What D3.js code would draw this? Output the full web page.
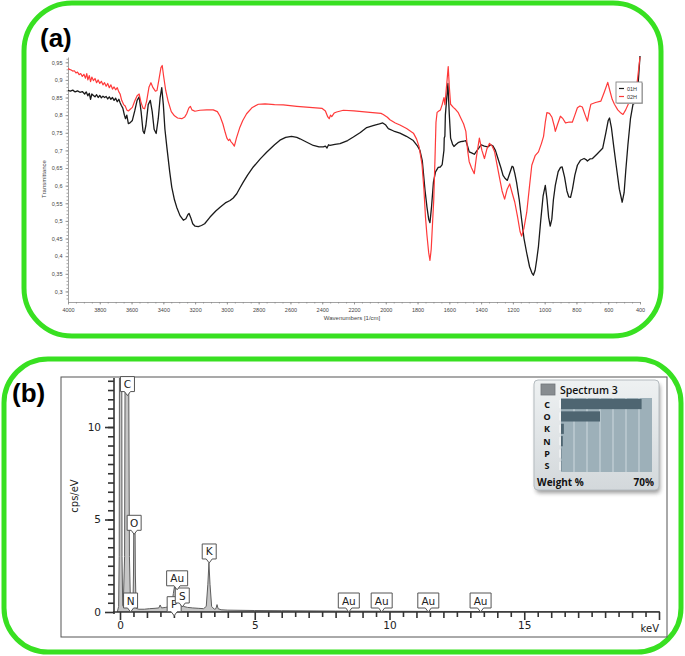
<!DOCTYPE html>
<meta charset="utf-8">
<style>
  body { margin: 0; background: #fff; }
  svg { display: block; }
</style>
<body>
<svg width="685" height="656"></svg>
<script src="https://cdn.jsdelivr.net/npm/d3@7"></script>
<script>

// ---------- panel (a) : FTIR spectra ----------
// wavenumbers (1/cm) and transmittance for sample 01H (black)
var wn01 = [4000,3985,3970,3955,3940,3925,3910,3895,3885,3875,3866,3858,3850,3840,3830,3820,3810,3800,3790,3780,3770,3760,3750,3740,3730,3720,3710,3700,3690,3680,3672,3665,3655,3645,3638,3630,3620,3610,3595,3580,3565,3552,3540,3528,3520,3510,3495,3482,3470,3458,3445,3432,3420,3410,3400,3390,3378,3360,3347,3330,3316,3295,3274,3258,3245,3238,3228,3215,3200,3180,3160,3140,3106,3070,3043,3010,2980,2960,2938,2920,2897,2870,2834,2790,2750,2700,2666,2630,2593,2560,2540,2500,2456,2420,2393,2380,2370,2360,2351,2320,2288,2240,2204,2160,2120,2080,2040,2019,2000,1984,1950,1911,1870,1827,1800,1785,1770,1753,1741,1730,1722,1712,1700,1687,1670,1656,1645,1634,1632,1628,1625,1616,1609,1600,1592,1580,1571,1560,1545,1528,1510,1496,1485,1475,1460,1443,1425,1400,1380,1358,1340,1326,1310,1294,1275,1262,1248,1235,1220,1205,1198,1188,1177,1160,1145,1130,1113,1095,1080,1071,1060,1050,1039,1025,1010,996,985,975,965,955,945,933,915,900,890,875,860,848,837,825,810,794,775,752,740,731,715,699,670,635,615,600,592,580,565,550,530,512,500,490,476,460,444,430,420,410,400];
var tr01 = [0.870,0.868,0.871,0.866,0.869,0.865,0.867,0.860,0.866,0.855,0.862,0.845,0.860,0.856,0.852,0.858,0.850,0.856,0.849,0.854,0.850,0.853,0.846,0.852,0.845,0.850,0.842,0.848,0.838,0.845,0.835,0.828,0.820,0.800,0.790,0.800,0.776,0.778,0.785,0.812,0.842,0.852,0.810,0.755,0.748,0.770,0.830,0.842,0.810,0.760,0.748,0.790,0.850,0.878,0.830,0.760,0.710,0.640,0.596,0.560,0.539,0.515,0.502,0.506,0.518,0.521,0.510,0.492,0.485,0.484,0.487,0.492,0.511,0.528,0.539,0.551,0.558,0.565,0.577,0.592,0.610,0.630,0.653,0.676,0.695,0.716,0.729,0.737,0.740,0.737,0.733,0.724,0.714,0.710,0.710,0.712,0.707,0.716,0.714,0.717,0.719,0.728,0.738,0.751,0.765,0.770,0.775,0.778,0.772,0.762,0.755,0.749,0.740,0.728,0.712,0.700,0.670,0.587,0.540,0.505,0.495,0.540,0.610,0.639,0.652,0.653,0.660,0.700,0.735,0.740,0.800,0.850,0.890,0.800,0.735,0.718,0.711,0.716,0.722,0.725,0.726,0.728,0.712,0.696,0.693,0.689,0.700,0.716,0.712,0.710,0.716,0.713,0.700,0.677,0.650,0.629,0.620,0.615,0.635,0.655,0.653,0.635,0.610,0.560,0.504,0.450,0.409,0.370,0.352,0.346,0.360,0.390,0.428,0.500,0.570,0.601,0.560,0.510,0.485,0.505,0.560,0.601,0.640,0.652,0.653,0.625,0.585,0.568,0.567,0.590,0.630,0.658,0.672,0.677,0.674,0.670,0.676,0.677,0.690,0.706,0.750,0.785,0.792,0.765,0.710,0.658,0.590,0.553,0.580,0.640,0.716,0.790,0.831,0.835,0.850,0.900,0.968];

// sample 02H (red)
var wn02 = [4000,3990,3980,3970,3960,3950,3940,3930,3920,3910,3900,3890,3882,3875,3866,3858,3850,3840,3830,3820,3810,3800,3790,3780,3770,3760,3750,3740,3730,3720,3710,3700,3690,3680,3672,3662,3650,3640,3630,3620,3610,3595,3580,3565,3552,3540,3528,3518,3505,3490,3478,3465,3450,3440,3428,3415,3407,3398,3385,3370,3350,3330,3310,3284,3265,3253,3240,3230,3220,3201,3170,3127,3086,3060,3043,3025,3010,3000,2990,2982,2975,2965,2953,2940,2918,2900,2876,2840,2802,2760,2700,2645,2560,2480,2400,2380,2365,2356,2348,2340,2325,2309,2267,2200,2100,2030,2016,1990,1974,1940,1911,1869,1826,1806,1790,1772,1760,1750,1741,1730,1722,1714,1705,1698,1690,1684,1677,1666,1656,1645,1634,1628,1622,1614,1607,1600,1592,1575,1560,1545,1528,1510,1496,1485,1475,1460,1443,1430,1411,1395,1379,1363,1347,1330,1315,1300,1283,1268,1252,1236,1220,1205,1188,1170,1155,1145,1130,1113,1095,1081,1060,1039,1020,1007,996,986,970,954,940,933,918,901,885,869,850,826,810,794,778,763,745,731,720,709,680,646,625,603,590,575,561,540,520,507,490,470,444,420,400];
var tr02 = [0.932,0.930,0.928,0.925,0.926,0.920,0.922,0.915,0.918,0.910,0.916,0.905,0.918,0.900,0.912,0.895,0.908,0.898,0.904,0.892,0.900,0.890,0.896,0.886,0.892,0.882,0.890,0.878,0.886,0.874,0.880,0.872,0.878,0.866,0.860,0.842,0.830,0.826,0.815,0.812,0.816,0.822,0.840,0.855,0.860,0.835,0.820,0.818,0.840,0.880,0.892,0.878,0.868,0.870,0.900,0.935,0.941,0.910,0.870,0.840,0.810,0.798,0.792,0.790,0.795,0.804,0.820,0.825,0.815,0.811,0.814,0.815,0.815,0.810,0.797,0.775,0.750,0.735,0.728,0.732,0.725,0.720,0.712,0.735,0.766,0.785,0.804,0.822,0.831,0.832,0.830,0.829,0.825,0.822,0.819,0.812,0.795,0.790,0.800,0.796,0.806,0.809,0.814,0.812,0.808,0.805,0.802,0.794,0.787,0.778,0.772,0.762,0.749,0.732,0.710,0.660,0.590,0.510,0.460,0.410,0.388,0.420,0.500,0.560,0.680,0.780,0.808,0.812,0.815,0.830,0.850,0.830,0.860,0.900,0.938,0.880,0.831,0.822,0.816,0.808,0.792,0.775,0.754,0.700,0.668,0.650,0.634,0.680,0.735,0.700,0.677,0.705,0.720,0.712,0.696,0.660,0.620,0.585,0.562,0.590,0.605,0.580,0.553,0.510,0.470,0.457,0.480,0.524,0.600,0.658,0.685,0.696,0.720,0.740,0.780,0.807,0.805,0.794,0.770,0.754,0.775,0.797,0.790,0.778,0.780,0.780,0.800,0.821,0.826,0.823,0.800,0.783,0.810,0.831,0.836,0.840,0.865,0.893,0.870,0.845,0.831,0.815,0.806,0.802,0.815,0.835,0.855,0.885,0.965];

var xTicksA = [4000,3800,3600,3400,3200,3000,2800,2600,2400,2200,2000,1800,1600,1400,1200,1000,800,600,400];
var yTicksA = [0.3,0.35,0.4,0.45,0.5,0.55,0.6,0.65,0.7,0.75,0.8,0.85,0.9,0.95];
var seriesNames = ["01H", "02H"];
var seriesColors = ["#1a1a1a", "#ff3a3a"];

// ---------- panel (b) : EDS spectrum ----------
var keV = [-0.1,-0.05,-0.03,-0.02,0.065,0.075,0.1,0.12,0.17,0.19,0.32,0.35,0.39,0.43,0.48,0.5,0.51,0.56,0.57,0.6,0.7,0.9,1.1,1.3,1.44,1.49,1.54,1.7,1.85,1.93,1.98,2.02,2.06,2.1,2.13,2.17,2.21,2.26,2.31,2.36,2.5,2.7,2.9,3.1,3.2,3.26,3.3,3.34,3.4,3.5,3.56,3.6,3.64,3.75,4,5,6,8,10,12,15,20];
var cps = [0,0.3,3,14,14,3,0.35,0.3,3,14,14,3,0.35,0.2,0.25,2,4.25,4.25,2,0.2,0.15,0.15,0.18,0.2,0.22,0.38,0.22,0.25,0.3,0.5,1.0,1.37,1.2,0.95,0.92,0.7,0.5,0.35,0.4,0.3,0.25,0.22,0.2,0.18,0.3,1.5,2.65,1.5,0.3,0.15,0.18,0.4,0.18,0.12,0.1,0.08,0.07,0.05,0.04,0.03,0.02,0.01];

// peak labels: element, energy of label (keV), height of the label pointer (cps)
var peakNames  = ["P","N","C","O","S","Au","K","Au","Au","Au","Au"];
var peakKeV    = [2.01,0.392,0.277,0.525,2.31,2.12,3.31,8.49,9.71,11.44,13.38];
var peakHeight = [-0.2,0,11.7,4.2,0.27,1.2,2.65,0,0,0,0];

var xTicksB = [0,5,10,15];
var yTicksB = [0,5,10];

// inset: weight %
var wtElements = ["C","O","K","N","P","S"];
var wtValues   = [62,30,2.2,1.4,0.3,0.3];

var svg = d3.select("svg");
var green = "#38e021";

// green rounded frames
svg.append("rect").attr("x",24).attr("y",3).attr("width",637).attr("height",333)
  .attr("rx",48).attr("fill","none").attr("stroke",green).attr("stroke-width",5);
svg.append("rect").attr("x",4).attr("y",359).attr("width",677).attr("height",293)
  .attr("rx",44).attr("fill","none").attr("stroke",green).attr("stroke-width",5);

svg.append("text").attr("x",40).attr("y",47).text("(a)")
  .attr("font-family","Liberation Sans, Arial").attr("font-weight","bold").attr("font-size",26);
svg.append("text").attr("x",12).attr("y",402).text("(b)")
  .attr("font-family","Liberation Sans, Arial").attr("font-weight","bold").attr("font-size",26);

// ======== panel (a) ========
var xA = d3.scaleLinear().domain([4000,400]).range([68,640]);
var yA = d3.scaleLinear().domain([0.27,0.965]).range([302,57]);

var ga = svg.append("g");

ga.append("g").attr("transform","translate(0,302)")
  .call(d3.axisBottom(xA).tickValues(xTicksA).tickSize(2.5).tickSizeOuter(0).tickPadding(4)
    .tickFormat(d3.format("d")));
ga.append("g").attr("transform","translate(0,302)")
  .call(d3.axisBottom(xA).tickValues(d3.range(4000,399,-50)).tickSize(1.5).tickFormat("").tickSizeOuter(0))
  .select(".domain").remove();
ga.append("g").attr("transform","translate(68,0)")
  .call(d3.axisLeft(yA).tickValues(yTicksA).tickSize(2.5).tickSizeOuter(0).tickPadding(3)
    .tickFormat(function(d){ return String(d).replace(".", ","); }));
ga.append("g").attr("transform","translate(68,0)")
  .call(d3.axisLeft(yA).tickValues(d3.range(0.28,0.965,0.01)).tickSize(1.5).tickFormat("").tickSizeOuter(0))
  .select(".domain").remove();

ga.selectAll(".domain, .tick line").attr("stroke","#8a8a8a").attr("stroke-width",0.8);
ga.selectAll(".tick text").attr("font-family","Liberation Sans, Arial").attr("font-size",5.5).attr("fill","#444");

ga.append("text").attr("x",352).attr("y",320).attr("text-anchor","middle")
  .attr("font-family","Liberation Sans, Arial").attr("font-size",6).attr("fill","#444")
  .text("Wavenumbers [1/cm]");
ga.append("text").attr("transform","translate(46,179) rotate(-90)").attr("text-anchor","middle")
  .attr("font-family","Liberation Sans, Arial").attr("font-size",6).attr("fill","#444")
  .text("Transmittance");

var lineA = d3.line().x(function(d){ return xA(d[0]); }).y(function(d){ return yA(d[1]); });
var data01 = wn01.map(function(w,i){ return [w, tr01[i]]; });
var data02 = wn02.map(function(w,i){ return [w, tr02[i]]; });

ga.append("path").datum(data01).attr("d",lineA).attr("fill","none")
  .attr("stroke",seriesColors[0]).attr("stroke-width",1.3).attr("stroke-linejoin","round");
ga.append("path").datum(data02).attr("d",lineA).attr("fill","none")
  .attr("stroke",seriesColors[1]).attr("stroke-width",1.2).attr("stroke-linejoin","round");

// legend
var lg = ga.append("g").attr("transform","translate(616,82)");
lg.append("rect").attr("x",1).attr("y",1).attr("width",26).attr("height",21).attr("fill","#bbb");
lg.append("rect").attr("width",26).attr("height",21).attr("fill","#fff").attr("stroke","#777").attr("stroke-width",0.8);
seriesNames.forEach(function(n,i){
  lg.append("line").attr("x1",3).attr("x2",8).attr("y1",6.5+i*8).attr("y2",6.5+i*8)
    .attr("stroke",seriesColors[i]).attr("stroke-width",1.2);
  lg.append("text").attr("x",11).attr("y",8.5+i*8).text(n)
    .attr("font-family","Liberation Sans, Arial").attr("font-size",5.5).attr("fill","#333");
});

// ======== panel (b) ========
var xB = d3.scaleLinear().domain([0,20]).range([120,659]);
var yB = d3.scaleLinear().domain([0,12.65]).range([612,378]);
var gb = svg.append("g");

gb.append("rect").attr("x",61).attr("y",377).attr("width",606).attr("height",260)
  .attr("fill","#fff").attr("stroke","#555").attr("stroke-width",1);

gb.append("clipPath").attr("id","clipB").append("rect")
  .attr("x",115).attr("y",378).attr("width",546).attr("height",234);

var areaB = d3.area().x(function(d){ return xB(d[0]); }).y0(yB(0)).y1(function(d){ return yB(d[1]); });
var specB = keV.map(function(k,i){ return [k, cps[i]]; });
gb.append("path").datum(specB).attr("clip-path","url(#clipB)").attr("d",areaB)
  .attr("fill","#c6c6c6").attr("stroke","#5e5e5e").attr("stroke-width",1).attr("stroke-linejoin","round");

// x axis
var axB = gb.append("g").attr("transform","translate(0,612)")
  .call(d3.axisBottom(xB).tickValues(xTicksB).tickSize(0).tickPadding(10));
axB.select(".domain").remove();
gb.append("g").attr("transform","translate(0,612)")
  .call(d3.axisBottom(xB).tickValues(d3.range(0,20.01,0.5)).tickFormat("").tickSizeOuter(0)
    .tickSize(5))
  .call(function(g){
    g.select(".domain").remove();
    g.selectAll(".tick line").attr("y2", function(d){ return d % 5 === 0 ? 8 : (d % 1 === 0 ? 6 : 5); });
  });
gb.append("line").attr("x1",113).attr("x2",660).attr("y1",612).attr("y2",612);

// y axis
var ayB = gb.append("g").attr("transform","translate(114,0)")
  .call(d3.axisLeft(yB).tickValues(yTicksB).tickSize(9).tickPadding(4));
ayB.select(".domain").remove();
gb.append("g").attr("transform","translate(114,0)")
  .call(d3.axisLeft(yB).tickValues(d3.range(0.5,12.6,0.5)).tickFormat("").tickSize(6))
  .select(".domain").remove();
gb.append("line").attr("x1",114).attr("x2",114).attr("y1",378).attr("y2",614);

gb.selectAll("line, .tick line").attr("stroke","#333").attr("stroke-width",1.6);
gb.selectAll(".tick text").attr("font-family","DejaVu Sans, Verdana").attr("font-size",10.5).attr("fill","#222");

gb.append("text").attr("x",659).attr("y",632).attr("text-anchor","end").text("keV")
  .attr("font-family","DejaVu Sans, Verdana").attr("font-size",10).attr("fill","#222");
gb.append("text").attr("transform","translate(78,496) rotate(-90)").attr("text-anchor","middle").text("cps/eV")
  .attr("font-family","DejaVu Sans, Verdana").attr("font-size",10).attr("fill","#222");

// peak labels
peakNames.forEach(function(n,i){
  var cx = xB(peakKeV[i]), tip = yB(peakHeight[i]);
  var w = n.length > 1 ? 21 : 14, h = 15, bot = tip - 4, top = bot - h;
  var l = cx - w/2, r = cx + w/2;
  var p = "M"+l+","+top+"H"+r+"V"+bot+"H"+(cx+3)+"L"+cx+","+tip+"L"+(cx-3)+","+bot+"H"+l+"Z";
  gb.append("path").attr("d",p).attr("fill","#fff").attr("stroke","#555").attr("stroke-width",1);
  gb.append("text").attr("x",cx).attr("y",bot-3.5).attr("text-anchor","middle").text(n)
    .attr("font-family","DejaVu Sans, Verdana").attr("font-size",10.5).attr("fill","#222");
});

// inset weight % chart
var defs = svg.append("defs");
var grad = defs.append("linearGradient").attr("id","insetBg").attr("x1",0).attr("x2",0).attr("y1",0).attr("y2",1);
grad.append("stop").attr("offset","0%").attr("stop-color","#eef1f2");
grad.append("stop").attr("offset","100%").attr("stop-color","#d3d8db");
var blur = defs.append("filter").attr("id","shadow").attr("x","-10%").attr("y","-10%").attr("width","130%").attr("height","130%");
blur.append("feGaussianBlur").attr("stdDeviation",2);

var gi = svg.append("g");
gi.append("rect").attr("x",536).attr("y",384).attr("width",124).attr("height",109).attr("rx",4)
  .attr("fill","#555").attr("opacity",0.6).attr("filter","url(#shadow)");
gi.append("rect").attr("x",534).attr("y",380).attr("width",125).attr("height",110).attr("rx",4)
  .attr("fill","url(#insetBg)").attr("stroke","#b5bcc0").attr("stroke-width",1);
gi.append("rect").attr("x",541).attr("y",384).attr("width",14).attr("height",11)
  .attr("fill","#878c90").attr("stroke","#70767a").attr("stroke-width",0.8);
gi.append("text").attr("x",560).attr("y",394).text("Spectrum 3")
  .attr("font-family","Open Sans, DejaVu Sans").attr("font-weight",600).attr("font-size",10.5).attr("fill","#111");

var xW = d3.scaleLinear().domain([0,70]).range([561,652]);
var yW = d3.scaleBand().domain(wtElements).range([398,472]).paddingInner(0.18).paddingOuter(0.08);

gi.append("rect").attr("x",561).attr("y",398).attr("width",91).attr("height",74).attr("fill","#9db0b9");
gi.selectAll(".wgrid").data(d3.range(10,70,10)).enter().append("line")
  .attr("x1",function(d){ return xW(d); }).attr("x2",function(d){ return xW(d); })
  .attr("y1",398).attr("y2",472).attr("stroke","#c7d3d9").attr("stroke-width",1.2);
gi.selectAll(".wbar").data(wtElements).enter().append("rect")
  .attr("x",xW(0)).attr("y",function(d){ return yW(d); })
  .attr("width",function(d,i){ return xW(wtValues[i]) - xW(0); })
  .attr("height",yW.bandwidth()).attr("fill","#4e6571");
gi.selectAll(".wtick").data(wtElements).enter().append("line")
  .attr("x1",560).attr("x2",560).attr("y1",function(d){ return yW(d)+1; })
  .attr("y2",function(d){ return yW(d)+yW.bandwidth()-1; }).attr("stroke","#fff").attr("stroke-width",1);
gi.selectAll(".wlab").data(wtElements).enter().append("text")
  .attr("x",547).attr("y",function(d){ return yW(d)+yW.bandwidth()/2+3.5; })
  .attr("text-anchor","middle").text(function(d){ return d; })
  .attr("font-family","Open Sans, DejaVu Sans").attr("font-weight",700).attr("font-size",9).attr("fill","#111");
gi.append("text").attr("x",537).attr("y",486).text("Weight %")
  .attr("font-family","Open Sans, DejaVu Sans").attr("font-weight",700).attr("font-size",10).attr("fill","#111");
gi.append("text").attr("x",654).attr("y",486).attr("text-anchor","end").text("70%")
  .attr("font-family","Open Sans, DejaVu Sans").attr("font-weight",700).attr("font-size",10).attr("fill","#111");

</script>
</body>
